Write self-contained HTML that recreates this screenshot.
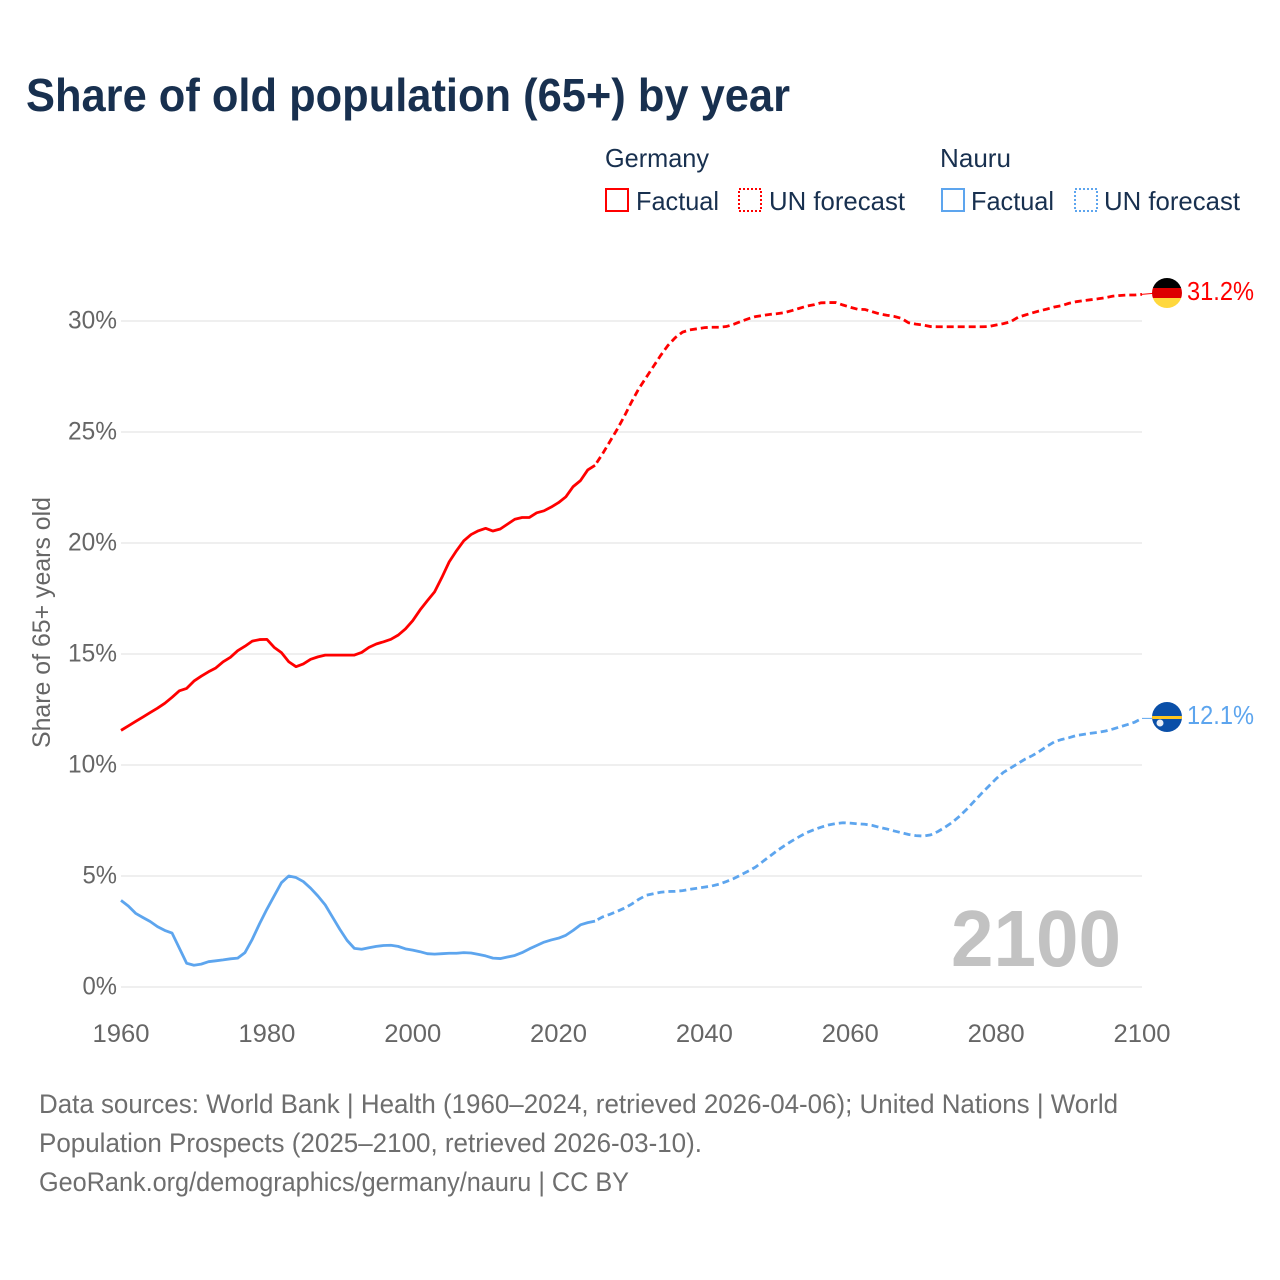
<!DOCTYPE html>
<html lang="en">
<head>
<meta charset="utf-8">
<title>Share of old population (65+) by year</title>
<style>
html,body{margin:0;padding:0;background:#fff;}
svg{display:block;font-family:"Liberation Sans",sans-serif;}
</style>
</head>
<body>
<svg id="chart" xmlns="http://www.w3.org/2000/svg" width="1280" height="1280" viewBox="0 0 1280 1280">
  <rect width="1280" height="1280" fill="#fff"/>
  <defs>
    <clipPath id="clip-de"><circle cx="1167" cy="293" r="15"/></clipPath>
    <clipPath id="clip-nr"><circle cx="1167" cy="717" r="15"/></clipPath>
  </defs>
  <text x="26" y="111" font-size="46" font-weight="700" fill="#18304f" textLength="764" lengthAdjust="spacingAndGlyphs">Share of old population (65+) by year</text>

  <g font-size="26" fill="#18304f">
    <text x="605" y="167" textLength="104" lengthAdjust="spacingAndGlyphs">Germany</text>
    <rect x="606" y="189" width="22" height="22" fill="none" stroke="#ff0000" stroke-width="2"/>
    <text x="636" y="210" textLength="83" lengthAdjust="spacingAndGlyphs">Factual</text>
    <rect x="739" y="189" width="22" height="22" fill="none" stroke="#ff0000" stroke-width="2" stroke-dasharray="2 2"/>
    <text x="769" y="210" textLength="136" lengthAdjust="spacingAndGlyphs">UN forecast</text>
    <text x="940" y="167" textLength="71" lengthAdjust="spacingAndGlyphs">Nauru</text>
    <rect x="942" y="189" width="22" height="22" fill="none" stroke="#5da5ee" stroke-width="2"/>
    <text x="971" y="210" textLength="83" lengthAdjust="spacingAndGlyphs">Factual</text>
    <rect x="1075" y="189" width="22" height="22" fill="none" stroke="#5da5ee" stroke-width="2" stroke-dasharray="2 2"/>
    <text x="1104" y="210" textLength="136" lengthAdjust="spacingAndGlyphs">UN forecast</text>
  </g>

  <g id="grid"></g>
  <g id="y-ticks" font-size="25" fill="#666"></g>
  <g id="x-ticks" font-size="25" fill="#666"></g>
  <text transform="translate(50,748) rotate(-90)" font-size="25" fill="#666" textLength="251" lengthAdjust="spacingAndGlyphs">Share of 65+ years old</text>

  <text x="951" y="966" font-size="80" font-weight="700" fill="#c2c2c2" textLength="170" lengthAdjust="spacingAndGlyphs">2100</text>

  <g id="series"></g>

  <g clip-path="url(#clip-de)">
    <rect x="1152" y="278" width="30" height="10" fill="#000"/>
    <rect x="1152" y="288" width="30" height="10" fill="#dd0000"/>
    <rect x="1152" y="298" width="30" height="10" fill="#ffd83d"/>
  </g>
  <g clip-path="url(#clip-nr)">
    <rect x="1152" y="702" width="30" height="30" fill="#0a4fa8"/>
    <rect x="1152" y="716" width="30" height="3" fill="#ffc61e"/>
    <circle cx="1160" cy="723" r="3.5" fill="#e8eef6"/>
  </g>
  <text id="label-de" x="1187" y="300" font-size="26" fill="#ff0000" textLength="67" lengthAdjust="spacingAndGlyphs">31.2%</text>
  <text id="label-nr" x="1187" y="724" font-size="26" fill="#5da5ee" textLength="67" lengthAdjust="spacingAndGlyphs">12.1%</text>

  <g font-size="27" fill="#6e6e6e">
    <text x="39" y="1113" textLength="1079" lengthAdjust="spacingAndGlyphs">Data sources: World Bank | Health (1960–2024, retrieved 2026-04-06); United Nations | World</text>
    <text x="39" y="1152" textLength="663" lengthAdjust="spacingAndGlyphs">Population Prospects (2025–2100, retrieved 2026-03-10).</text>
    <text x="39" y="1191" textLength="590" lengthAdjust="spacingAndGlyphs">GeoRank.org/demographics/germany/nauru | CC BY</text>
  </g>
</svg>
<script>
const firstYear = 1960;
const forecastStart = 2025;
const yTicks = [0, 5, 10, 15, 20, 25, 30];
const xTicks = [1960, 1980, 2000, 2020, 2040, 2060, 2080, 2100];
const germanyFactual = [
  11.56,11.76,11.96,12.16,12.36,12.56,12.78,13.05,13.34,13.45,
  13.78,14.0,14.2,14.37,14.65,14.85,15.15,15.35,15.58,15.65,
  15.66,15.3,15.06,14.65,14.43,14.55,14.76,14.87,14.95,14.95,
  14.95,14.95,14.95,15.07,15.3,15.45,15.55,15.66,15.85,16.13,
  16.5,16.98,17.4,17.8,18.45,19.15,19.65,20.1,20.38,20.55,
  20.66,20.54,20.63,20.85,21.07,21.15,21.15,21.36,21.45,21.62,
  21.82,22.08,22.54,22.81,23.29,23.5
];
const germanyForecast = [
  23.5,24.0,24.55,25.1,25.7,26.35,
  26.95,27.45,27.95,28.45,28.9,29.25,29.5,29.6,29.65,29.7,
  29.72,29.72,29.75,29.85,29.98,30.1,30.2,30.25,30.3,30.33,
  30.38,30.47,30.57,30.67,30.73,30.82,30.83,30.83,30.72,30.62,
  30.53,30.52,30.42,30.32,30.26,30.21,30.12,29.92,29.86,29.82,
  29.75,29.74,29.74,29.74,29.74,29.74,29.74,29.74,29.75,29.82,
  29.88,29.97,30.17,30.27,30.37,30.46,30.54,30.63,30.69,30.8,
  30.87,30.92,30.96,31.0,31.05,31.12,31.15,31.17,31.17,31.2
];
const nauruFactual = [
  3.9,3.65,3.32,3.13,2.95,2.72,2.55,2.43,1.75,1.07,
  0.98,1.03,1.14,1.18,1.22,1.27,1.3,1.55,2.15,2.85,
  3.5,4.1,4.7,5.0,4.93,4.75,4.45,4.1,3.7,3.15,
  2.6,2.1,1.74,1.7,1.77,1.83,1.87,1.88,1.83,1.72,
  1.66,1.59,1.5,1.48,1.5,1.52,1.52,1.55,1.53,1.47,
  1.4,1.3,1.28,1.35,1.42,1.55,1.72,1.87,2.02,2.12,
  2.2,2.33,2.55,2.8,2.9,2.97
];
const nauruForecast = [
  2.97,3.15,3.27,3.4,3.55,3.73,
  3.95,4.13,4.2,4.27,4.3,4.31,4.34,4.4,4.45,4.5,
  4.55,4.63,4.75,4.88,5.05,5.22,5.4,5.65,5.9,6.15,
  6.37,6.58,6.77,6.95,7.08,7.2,7.3,7.36,7.4,7.38,
  7.35,7.33,7.28,7.19,7.12,7.03,6.95,6.87,6.82,6.8,
  6.85,7.0,7.2,7.42,7.7,8.02,8.37,8.72,9.05,9.38,
  9.67,9.87,10.07,10.27,10.43,10.63,10.85,11.05,11.15,11.23,
  11.33,11.38,11.43,11.47,11.53,11.62,11.72,11.82,11.93,12.1
];

const NS = 'http://www.w3.org/2000/svg';
function xScale(year) { return 121 + (year - 1960) * (1142 - 121) / 140; }
function yScale(pct) { return 987 - pct * 22.2; }
function make(tag, attrs, parent) {
  const el = document.createElementNS(NS, tag);
  Object.keys(attrs).forEach(function (k) { el.setAttribute(k, attrs[k]); });
  parent.appendChild(el);
  return el;
}
function pointsOf(values, startYear) {
  return values.map(function (v, i) { return xScale(startYear + i).toFixed(2) + ',' + yScale(v).toFixed(2); }).join(' ');
}

const gridGroup = document.getElementById('grid');
const yGroup = document.getElementById('y-ticks');
const xGroup = document.getElementById('x-ticks');
const seriesGroup = document.getElementById('series');

yTicks.forEach(function (t) {
  const line = make('line', {x1: 121, x2: 1142, y1: yScale(t), y2: yScale(t), stroke: '#eaeaea', 'stroke-width': 1.5}, gridGroup);
  
  
  const s = t + '%';
  const w = (String(t).length * 14.5) + 20;
  const label = make('text', {x: 117 - w, y: yScale(t) + 7.5, textLength: w, lengthAdjust: 'spacingAndGlyphs'}, yGroup);
  label.textContent = s;
  
  
});

xTicks.forEach(function (t) {
  const label = make('text', {x: xScale(t) - 28.5, y: 1042, textLength: 57, lengthAdjust: 'spacingAndGlyphs'}, xGroup);
  label.textContent = String(t);
  
  
});

const germanyLine = make('polyline', {points: pointsOf(germanyFactual, firstYear), fill: 'none', stroke: '#ff0000', 'stroke-width': 2.8, 'stroke-linejoin': 'round'}, seriesGroup);



const germanyDash = make('polyline', {points: pointsOf(germanyForecast, forecastStart), fill: 'none', stroke: '#ff0000', 'stroke-width': 2.8, 'stroke-dasharray': '7 4', 'stroke-dashoffset': '-3'}, seriesGroup);



const nauruLine = make('polyline', {points: pointsOf(nauruFactual, firstYear), fill: 'none', stroke: '#5da5ee', 'stroke-width': 2.8, 'stroke-linejoin': 'round'}, seriesGroup);



const nauruDash = make('polyline', {points: pointsOf(nauruForecast, forecastStart), fill: 'none', stroke: '#5da5ee', 'stroke-width': 2.8, 'stroke-dasharray': '7 4', 'stroke-dashoffset': '-3'}, seriesGroup);



const germanyEnd = germanyForecast[germanyForecast.length - 1];
const nauruEnd = nauruForecast[nauruForecast.length - 1];
const germanyConnector = make('line', {x1: xScale(2100), x2: 1153, y1: yScale(germanyEnd), y2: yScale(germanyEnd) - 1, stroke: '#ff0000', 'stroke-width': 1}, seriesGroup);


const nauruConnector = make('line', {x1: xScale(2100), x2: 1153, y1: yScale(nauruEnd), y2: yScale(nauruEnd), stroke: '#5da5ee', 'stroke-width': 1}, seriesGroup);



document.getElementById('label-de').textContent = germanyEnd.toFixed(1) + '%';
document.getElementById('label-nr').textContent = nauruEnd.toFixed(1) + '%';
</script>
</body>
</html>
